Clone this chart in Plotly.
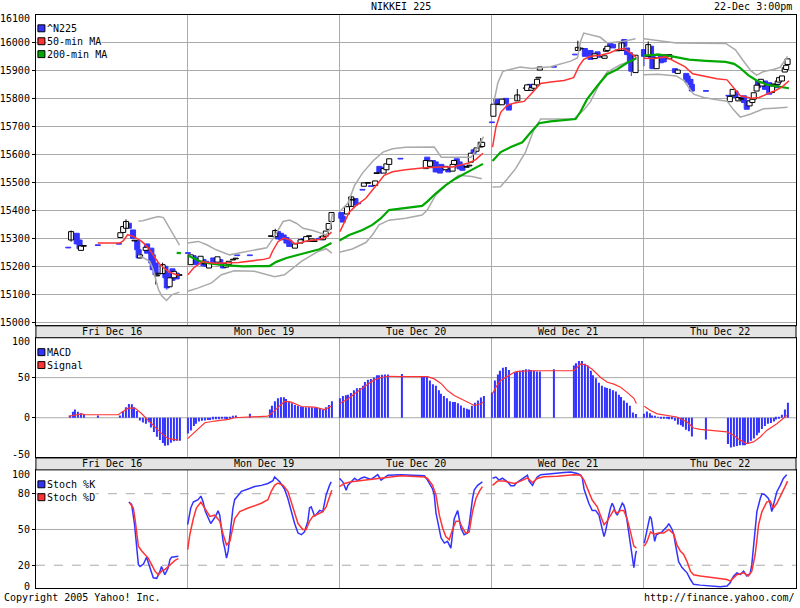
import plotly.graph_objects as go

# ---- canvas / style ----
W, H = 800, 608
BLUE = "#3333ff"
RED = "#ff3333"
GREEN = "#00a800"
GRAY = "#aaaaaa"
FONT = "DejaVu Sans Mono"

# ---- axes / labels ----
days = ["Fri Dec 16", "Mon Dec 19", "Tue Dec 20", "Wed Dec 21", "Thu Dec 22"]
bars_per_day = 54  # 5-minute bars per session
price_ticks = list(range(15000, 16001, 100))
macd_ticks = [0, 50]
stoch_ticks = [20, 50, 80]

# ---- ^N225 candles: (bar, open, close) ----
fri_candles = [
    (11.5, 15270, 15268), (12.5, 15296, 15326), (14.5, 15320, 15282), (15.5, 15296, 15265),
    (16, 15259, 15275), (17, 15275, 15275), (22, 15278, 15277), (29.5, 15283, 15282),
    (30, 15305, 15322), (31, 15323, 15344), (32, 15338, 15362), (33, 15356, 15338),
    (34.5, 15332, 15302), (35, 15294, 15294), (36, 15294, 15261), (36.5, 15261, 15232),
    (37, 15232, 15243), (39, 15259, 15270), (39.5, 15282, 15249), (41, 15267, 15214),
    (41.5, 15243, 15190), (42.5, 15214, 15172), (43, 15169, 15169), (43.5, 15176, 15176),
    (45, 15176, 15208), (46, 15202, 15161), (46.5, 15178, 15125), (47.5, 15129, 15161),
    (48.5, 15193, 15152), (49, 15161, 15184), (50, 15178, 15157), (51, 15171, 15171),
]
mon_candles = [
    (54, 15250, 15249), (55, 15208, 15243), (56, 15240, 15214), (57, 15232, 15208),
    (58.5, 15220, 15238), (59.5, 15226, 15204), (60, 15212, 15212), (60.5, 15220, 15202),
    (61.5, 15196, 15212), (63, 15232, 15214), (64.5, 15217, 15236), (65.5, 15226, 15212),
    (66.5, 15212, 15196), (67.5, 15199, 15212), (68.5, 15208, 15220), (70, 15226, 15226),
    (71, 15230, 15230), (71.5, 15242, 15241), (76, 15242, 15241), (83.5, 15310, 15310),
    (85, 15308, 15330), (86, 15326, 15300), (87, 15320, 15297), (88, 15314, 15297),
    (89, 15305, 15285), (90, 15296, 15273), (92, 15267, 15282), (94, 15285, 15297),
    (95, 15300, 15299), (96, 15291, 15308), (97, 15310, 15310), (98, 15291, 15300),
    (99, 15292, 15292), (100.5, 15301, 15300), (101.5, 15308, 15297), (102, 15297, 15310),
    (103, 15310, 15328), (104, 15334, 15355), (105, 15362, 15394),
]
tue_candles = [
    (108.5, 15394, 15373), (109, 15380, 15360), (110.5, 15389, 15415), (112, 15416, 15450),
    (112.5, 15440, 15440), (113.5, 15444, 15421), (114.5, 15427, 15426), (116, 15476, 15475),
    (116.5, 15488, 15500), (118, 15500, 15500), (119, 15489, 15488), (120.5, 15491, 15507),
    (121, 15535, 15535), (122, 15559, 15535), (122.5, 15555, 15540), (123.5, 15535, 15551),
    (124.5, 15547, 15568), (125.5, 15566, 15586), (129.5, 15587, 15586), (138.5, 15551, 15580),
    (139, 15592, 15557), (140, 15559, 15578), (141, 15580, 15562), (142, 15575, 15539),
    (143.5, 15559, 15535), (144, 15566, 15545), (145.5, 15547, 15559), (146.5, 15555, 15539),
    (148, 15542, 15566), (148.5, 15566, 15580), (149.5, 15586, 15557), (150.5, 15575, 15550),
    (151.5, 15562, 15545), (153, 15557, 15557), (154, 15562, 15562), (154.5, 15574, 15606),
    (155.5, 15618, 15606), (156.5, 15613, 15625), (158, 15628, 15645), (158.5, 15630, 15645),
]
wed_candles = [
    (162, 15717, 15716), (162.5, 15738, 15781), (163.5, 15799, 15781), (164.5, 15781, 15781),
    (165.5, 15779, 15799), (167, 15802, 15784), (168, 15781, 15760), (171, 15793, 15814),
    (174, 15839, 15838), (174.5, 15830, 15850), (175.5, 15852, 15831), (176, 15831, 15840),
    (177, 15838, 15852), (178, 15850, 15870), (178.5, 15876, 15876), (179, 15903, 15914),
    (184, 15915, 15914), (191.5, 15959, 15958), (192.5, 15973, 15984), (193.5, 15980, 15980),
    (195, 15980, 15952), (195.5, 15961, 15960), (197, 15973, 15941), (197.5, 15946, 15945),
    (198.5, 15944, 15961), (199.5, 15968, 15949), (201.5, 15950, 15950), (202, 15945, 15954),
    (202.5, 15970, 15980), (203, 15973, 15988), (204, 16000, 15988), (205, 15995, 15982),
    (206.5, 15973, 15973), (208, 15973, 16000), (209, 16012, 15988), (210, 15982, 15958),
    (211, 15965, 15929), (211.5, 15935, 15899), (213, 15894, 15956),
]
thu_candles = [
    (216, 15976, 15952), (217.5, 15952, 15994), (218.5, 15988, 15947), (219, 15958, 15908),
    (220.5, 15908, 15947), (221, 15958, 15958), (222, 15955, 15929), (223, 15958, 15932),
    (225, 15943, 15958), (227, 15908, 15894), (228, 15891, 15903), (231, 15891, 15870),
    (231.5, 15882, 15860), (232.5, 15870, 15852), (233, 15852, 15828), (238, 15829, 15828),
    (246, 15812, 15811), (246.5, 15790, 15809), (247.5, 15813, 15834), (248.5, 15828, 15805),
    (249.5, 15793, 15805), (250.5, 15800, 15800), (251.5, 15811, 15787), (252.5, 15793, 15763),
    (253.5, 15775, 15793), (254.5, 15787, 15799), (255, 15799, 15822), (256, 15828, 15849),
    (256.5, 15864, 15840), (257.5, 15852, 15870), (258, 15846, 15858), (259, 15864, 15834),
    (260.5, 15858, 15817), (261.5, 15823, 15846), (262, 15852, 15852), (263, 15852, 15840),
    (263.5, 15852, 15864), (264, 15860, 15876), (265, 15864, 15882), (266, 15896, 15911),
    (266.5, 15905, 15920), (267, 15923, 15943),
]
# visible shadows: (bar, high, low)
wicks = [
    (12.5, 15330, 15290), (32, 15370, 15338), (42.5, 15214, 15137), (45, 15215, 15176),
    (46.5, 15178, 15118), (85, 15336, 15308), (112, 15453, 15416), (158, 15660, 15628),
    (171, 15835, 15793), (192.5, 16008, 15973), (208, 16008, 15973), (211.5, 15935, 15882),
    (216, 15976, 15917), (217.5, 16005, 15952),
]

# ---- overlays: (bar, value), None = session break ----
ma50 = [
    (22, 15285), (29.8, 15285), (31, 15293), (32.6, 15315), (34.7, 15308), (37.6, 15291),
    (40, 15267), (41.8, 15239), (43.6, 15214), (45.4, 15196), (47.5, 15181), (50, 15172),
    (51, 15171), None,
    (54, 15172), (56, 15196), (59, 15218), (63.5, 15213), (72, 15216), (80.5, 15226),
    (83, 15232), (84, 15255), (86, 15290), (88, 15303), (90, 15297), (92, 15283), (94, 15286),
    (96.5, 15293), (100.5, 15298), (103, 15306), (105, 15324), None,
    (108, 15326), (109.5, 15356), (111.3, 15395), (113.6, 15418), (117.2, 15445),
    (120.7, 15489), (123.7, 15527), (126.7, 15540), (131.3, 15547), (137.2, 15553),
    (143.2, 15557), (148, 15557), (150.3, 15562), (153.8, 15571), (156.2, 15583),
    (158.8, 15606), None,
    (162.2, 15628), (163.4, 15699), (165.1, 15752), (167.5, 15778), (170, 15785),
    (173.4, 15791), (175.8, 15817), (179.3, 15855), (182.8, 15860), (187.6, 15866),
    (191, 15876), (192.9, 15917), (194.6, 15941), (197, 15952), (200.5, 15956), (204, 15965),
    (206.4, 15976), (208.8, 15980), (211.2, 15965), (213.3, 15947), None,
    (216, 15945), (219.6, 15944), (223.7, 15950), (227.2, 15932), (230.5, 15915),
    (233.3, 15890), (237.2, 15881), (241.9, 15872), (245.5, 15868), (247.9, 15840),
    (250.2, 15811), (254.3, 15802), (256.9, 15805), (260.3, 15820), (262.7, 15830),
    (265.1, 15843), (267.5, 15865),
]
ma200 = [
    (50, 15250), (51.5, 15249), None,
    (54.2, 15240), (56, 15232), (58.3, 15220), (61.8, 15212), (66.5, 15206), (73.6, 15202),
    (83, 15203), (85.4, 15218), (89, 15232), (94, 15245), (97.2, 15253), (100.7, 15263),
    (105, 15285), None,
    (107.8, 15294), (111.3, 15314), (116, 15332), (119.5, 15350), (122.5, 15373),
    (125.4, 15403), (130.2, 15409), (137.2, 15418), (139, 15433), (142, 15462),
    (145.5, 15491), (149, 15515), (152.6, 15535), (156.2, 15554), (158.8, 15568), None,
    (162.2, 15578), (165.1, 15610), (168.7, 15628), (172.8, 15645), (175.8, 15681),
    (178.7, 15713), (182.8, 15720), (187.6, 15724), (191.7, 15728), (193.5, 15755),
    (195.8, 15799), (199.4, 15846), (202.9, 15888), (206.4, 15905), (210, 15929),
    (213.3, 15945), None,
    (216, 15955), (221, 15958), (226, 15952), (232, 15940), (238, 15936), (245, 15932),
    (248, 15925), (250, 15912), (253, 15885), (256, 15866), (260, 15850), (264, 15843),
    (267.5, 15838),
]
band_upper = [
    (36.4, 15364), (38, 15365), (40.4, 15372), (43.5, 15380), (45.3, 15376), (46.5, 15355),
    (48.2, 15326), (50.6, 15280), (51, 15278), None,
    (53.9, 15285), (57.7, 15291), (60.7, 15279), (64, 15261), (68.8, 15243), (72.5, 15249),
    (77, 15259), (82, 15268), (84.8, 15310), (87.8, 15362), (90.1, 15367), (92.5, 15356),
    (94.9, 15338), (98.4, 15330), (103.1, 15314), (104.5, 15335), (105.3, 15390), None,
    (107.8, 15397), (110.8, 15427), (113.2, 15491), (116, 15535), (119.9, 15580),
    (123.3, 15610), (126.7, 15622), (131.3, 15627), (141.5, 15628), (142.7, 15610),
    (144, 15592), (154.6, 15592), (157, 15628), (159, 15665), None,
    (162.5, 15780), (164.1, 15858), (165.9, 15899), (172, 15914), (176.2, 15909),
    (182.8, 15915), (190, 15935), (192.4, 15947), (193.5, 16006), (194.6, 16035),
    (200.5, 16020), (202.9, 16000), (208.8, 16006), (213, 16015), None,
    (216, 16015), (222, 16006), (227.5, 16000), (245, 15998), (248.5, 15975), (251, 15940),
    (254, 15900), (256, 15885), (258.5, 15898), (262, 15905), (264.4, 15913), (267, 15952),
]
band_lower = [
    (36.4, 15243), (40.4, 15220), (41.5, 15195), (42.4, 15165), (43.5, 15120), (44.6, 15098),
    (46.4, 15080), (48.2, 15100), (50.6, 15110), (51, 15110), None,
    (53.9, 15113), (57.7, 15125), (62.4, 15143), (65.9, 15172), (70.5, 15186), (77.6, 15184),
    (84.8, 15165), (88.3, 15172), (94.3, 15220), (100.2, 15255), (103.1, 15265),
    (105.1, 15249), None,
    (107.8, 15252), (112.4, 15264), (117.2, 15287), (119.5, 15314), (121.9, 15350),
    (125.4, 15367), (131.3, 15374), (137.2, 15385), (139, 15403), (142, 15456),
    (145.5, 15491), (150.2, 15527), (154.9, 15523), (158.4, 15515), None,
    (162.2, 15485), (165, 15486), (167.5, 15515), (170.4, 15551), (173.9, 15610),
    (176.9, 15690), (179.3, 15728), (191.1, 15728), (194.6, 15760), (197, 15790),
    (200.5, 15860), (202.9, 15896), (207.6, 15922), (210, 15930), None,
    (216, 15886), (221, 15888), (227.5, 15882), (230.2, 15865), (233.6, 15817),
    (237.2, 15805), (241.9, 15797), (245.5, 15792), (247.9, 15760), (250.2, 15735),
    (253.7, 15745), (258.5, 15765), (262, 15767), (267, 15770),
]

# ---- MACD histogram: (bar, value) ----
macd = [
    (12, 2.8), (13, 7.4), (14, 10.2), (15, 7.4), (16, 5.6), (17, 4.7), (22, 2.8), (30, 2.8),
    (31, 8.4), (32, 13), (33, 17.2), (34, 16.7), (35, 13), (36, 8.4), (37, -3.3), (38, -6),
    (39, -7.4), (40, -5.6), (41, -12.1), (42, -17.7), (43, -23.7), (44, -27.9), (45, -31.6),
    (46, -34.9), (47, -34.4), (48, -31.2), (49, -29.4), (50, -28.8), (51, -28.8),
    (54, -19.5), (55, -15.8), (56, -10.2), (57, -7.4), (58, -4.7), (59, -3.7), (60, -3.3),
    (61, -2.8), (62, -2.8), (63, -2.3), (64, -1.9), (65, -1.9), (66, -1.4), (67, -1.4),
    (68, -1.9), (69, -0.9), (70, 1.9), (71, 2.8), (76, 4.9), (83, 10.2), (84, 14.9),
    (85, 20.5), (86, 24.2), (87, 25.6), (88, 25.6), (89, 23.3), (90, 20.5), (91, 18.1),
    (92, 15.8), (93, 14.9), (94, 14), (95, 13.5), (96, 13), (97, 13), (98, 13), (99, 12.6),
    (100, 12.1), (101, 11.2), (102, 10.2), (103, 13), (104, 15.8), (105, 20.5),
    (108, 24.2), (109, 27), (110, 27.9), (111, 28.8), (112, 30.7), (113, 34.4), (114, 36.8),
    (115, 37.2), (116, 40), (117, 44.6), (118, 47.4), (119, 48.4), (120, 50.2), (121, 53),
    (122, 53), (123, 53.5), (124, 53.9), (125, 53.9), (130, 54.6), (137, 52.1), (138, 52.1),
    (139, 50.7), (140, 46.5), (141, 41.9), (142, 40), (143, 34.4), (144, 29.8), (145, 27),
    (146, 24.2), (147, 20.5), (148, 19.5), (149, 19.5), (150, 18.1), (151, 15.3),
    (152, 12.6), (153, 11.2), (154, 10.2), (155, 14.9), (156, 18.6), (157, 21.4),
    (158, 25.1), (159, 27),
    (162, 31.6), (163, 46.5), (164, 53.9), (165, 58.6), (166, 62.3), (167, 63.2),
    (168, 59.5), (170, 56.7), (171, 57.7), (172, 58.6), (173, 59.5), (174, 60.5), (175, 60),
    (176, 59.5), (177, 58.6), (178, 57.7), (179, 57.7), (184, 60.5), (191, 65.1),
    (192, 67.9), (193, 70.7), (194, 70.7), (195, 67.4), (196, 65.1), (197, 58.6), (198, 53),
    (199, 49.3), (200, 43.7), (201, 40), (202, 38.1), (203, 37.2), (204, 36), (205, 34.4),
    (206, 32.6), (207, 28.8), (208, 26), (209, 21.4), (210, 18.6), (211, 14.9), (212, 6.5),
    (213, 4.7),
    (216, 4.9), (217, 7.9), (218, 5.6), (219, 2.8), (220, 1.4), (221, 0.5), (222, -0.5),
    (223, -0.9), (224, -1.4), (225, -1.9), (226, -1.9), (227, -3.7), (228, -8.4),
    (229, -9.3), (230, -11.2), (231, -14.9), (232, -16.7), (233, -23.3), (238, -27),
    (246, -32.6), (247, -37.2), (248, -36.3), (249, -35.2), (250, -34.4), (251, -34.4),
    (252, -34.4), (253, -32.3), (254, -28.8), (255, -26), (256, -21.9), (257, -18.6),
    (258, -14), (259, -10.2), (260, -7.4), (261, -6.5), (262, -4.7), (263, -2.3),
    (264, -0.5), (265, 3.7), (266, 10.2), (267, 18.6),
]
signal = [
    (11.6, 1.9), (16.3, 4.7), (17.5, 3.7), (29.3, 3.7), (30.5, 7), (32.8, 12), (35.2, 12),
    (37.6, 4.9), (39.9, -3.3), (42.3, -11.5), (44.6, -19.5), (47, -26), (50.6, -27.9), None,
    (53.9, -26), (55.9, -19.5), (57.6, -12.8), (60, -6.2), (63.5, -4.1), (68.3, -2),
    (70.6, 0), (77.7, 0.9), (82.4, 2), (84.2, 7), (86, 13.2), (88.3, 20.3), (90.7, 19.5),
    (93.1, 16.1), (94.3, 14), (99, 13.2), (102.5, 10.2), (104.9, 14.4), None,
    (107.8, 17.4), (110.8, 23.3), (113.2, 29.8), (115.5, 36), (117.9, 41.9), (120.2, 47.2),
    (122.6, 50.2), (125, 51.7), (129.7, 51.2), (139.1, 51.2), (141.5, 48.4), (143.9, 42.8),
    (146.2, 33.9), (148.6, 27.7), (151, 23.5), (153.3, 19.5), (155.7, 15.3), (158, 17.4),
    (159, 19.5), None,
    (162.2, 29.8), (163.4, 38.1), (165.1, 46.5), (167.5, 52.1), (169.9, 56.7), (171, 57.7),
    (177, 58.6), (191.1, 58.6), (193.5, 67), (195.3, 65.8), (197.6, 60.5), (200.6, 50.2),
    (203, 44.3), (205.3, 41.9), (207.7, 38.1), (210, 31.6), (212.4, 24.2), (213.3, 17.7),
    None,
    (216.1, 14.4), (218.3, 9.1), (220.7, 4.9), (224.2, 2.8), (227.7, 0.9), (231.3, -5.4),
    (233.6, -12.8), (236, -14.5), (240.7, -15.8), (245.5, -17.7), (247.8, -21.9),
    (250.2, -27.9), (252.5, -32.3), (254.9, -30.1), (257.3, -24), (259.6, -15.8),
    (263.2, -7.4), (265.5, -1.2), (266.7, 2.8),
]

# ---- Stochastics: (bar, value) ----
stoch_k = [
    (33, 73), (34, 71), (35, 55), (35.8, 32), (36.4, 20.5), (37, 19), (38.2, 21),
    (39.3, 26.7), (40.5, 19), (41.1, 13.6), (41.7, 9.4), (42.9, 9), (44.1, 15), (44.6, 19),
    (45.8, 12), (47, 17.8), (47.6, 24.7), (48.2, 26.7), (50.6, 27.5), None,
    (53.9, 54), (55, 68), (55.9, 73), (57.6, 75), (58.6, 78), (59.4, 73), (60.2, 65),
    (61.2, 59), (62.1, 55), (63.8, 61), (64.7, 65.6), (65.3, 62), (65.9, 51), (66.5, 40),
    (67.1, 34), (67.7, 26), (68.3, 32), (68.9, 46), (69.5, 57), (70, 68), (70.6, 75),
    (71.8, 79), (73, 82), (75.4, 84), (77.7, 86), (80.1, 87), (82.4, 88.6), (84.2, 91),
    (84.8, 94), (86.6, 90), (88.3, 84), (89.5, 76), (90.7, 65), (91.9, 55), (93.1, 47),
    (94.3, 45.6), (95.4, 48), (96.6, 57), (97.2, 68), (97.8, 69), (99, 61), (100.8, 66),
    (101.9, 65), (103.1, 79), (104.3, 87), (104.9, 90), None,
    (107.8, 93), (109, 90), (110.2, 83), (110.8, 87), (112, 90), (113.2, 93), (114.3, 91),
    (115.5, 93), (116.7, 94), (119, 92), (120.2, 94), (121.4, 96), (122.6, 91.4),
    (125, 95.6), (129.7, 96), (138, 95), (139.1, 91.4), (140.9, 84), (141.5, 79),
    (142.1, 64), (142.7, 57), (143.3, 48), (143.9, 43), (145.1, 38.6), (146.2, 40),
    (147.4, 34.4), (148, 45.6), (148.6, 59), (149.8, 66), (150.4, 59), (151, 51),
    (152.1, 45.6), (153.3, 47), (153.9, 54), (154.5, 68), (155.1, 76), (155.7, 83),
    (156.9, 87), (158.6, 90), None,
    (162.2, 93), (163.4, 94), (164.5, 91.4), (165.7, 93), (167.5, 90), (168.7, 86.7),
    (169.9, 86.7), (170.5, 88.6), (171.6, 90.6), (172.8, 92.8), (174.6, 95.6), (175.2, 90.6),
    (176.4, 87), (177, 90), (178.1, 94), (179.3, 96), (182.9, 97), (187.6, 97.8), (190, 98.3),
    (192.3, 97), (193.5, 95.6), (194.1, 93), (194.7, 84), (195.3, 79), (196.4, 72),
    (197.6, 66), (198.8, 66), (200, 62), (200.6, 55), (201.2, 51), (201.8, 44), (202.3, 48),
    (202.9, 57), (203.5, 62), (204.1, 68), (204.7, 72), (205.3, 69), (205.9, 64),
    (206.5, 62), (207.7, 69), (208.3, 72), (208.8, 70.6), (209.4, 66), (210, 57),
    (210.6, 48), (211.2, 40), (211.8, 29), (212.4, 18), (213, 29), (213.3, 32), None,
    (216.1, 38.6), (217.5, 54), (218.1, 61), (218.6, 59), (219.2, 48), (219.8, 40),
    (220.4, 45.6), (222.4, 48), (224.2, 52.5), (224.8, 55), (226, 50), (226.6, 45.6),
    (227.1, 38.6), (227.7, 29), (228.3, 23), (229.5, 18), (230.1, 16.4), (231.3, 13.6),
    (232.5, 8), (233.6, 4), (236, 3.3), (240.7, 2.5), (243.1, 2), (245.5, 2.5), (246.6, 5.3),
    (247.8, 10.8), (249, 13.6), (250.2, 12.2), (251.4, 15), (252.5, 11), (253.7, 13),
    (254.3, 20.5), (254.9, 34), (255.5, 51), (256.1, 65), (257.3, 76), (257.9, 80),
    (259, 79), (260.2, 76), (260.8, 72), (261.4, 65), (262, 70.6), (263.2, 81.7),
    (264.4, 87), (265.5, 92.8), (266.7, 96),
]
stoch_d = [
    (33.4, 72), (34.6, 68), (35.2, 59), (35.8, 46), (36.4, 36), (37.6, 32), (38.7, 29),
    (39.9, 26), (41.1, 20.5), (42.3, 15), (43.5, 12), (44.6, 15), (45.8, 16.4), (47, 19),
    (48.2, 22), (49.4, 24), (50.6, 25.5), None,
    (53.9, 33), (54.7, 46), (55.9, 59), (57, 68), (58.6, 73), (60, 68), (61.8, 61),
    (63.5, 62), (65.3, 57), (66.5, 46), (67.7, 37), (68.9, 40), (70.6, 59), (72.4, 65),
    (75.4, 68), (80.1, 72), (82.4, 75), (83.6, 82), (84.8, 87), (86, 89), (87.8, 87),
    (89.5, 82), (91.3, 68), (93.1, 55), (94.8, 50), (96, 50), (97.2, 57), (98.4, 61),
    (100.2, 63), (101.9, 65), (103.1, 69), (104.3, 77.5), (105.1, 83), None,
    (107.8, 86), (109.6, 88.6), (112, 90), (114.3, 90.6), (116.7, 91.4), (119, 92),
    (122.6, 92.8), (125, 94), (129.7, 95), (138, 94), (139.1, 92.8), (140.9, 87),
    (142.1, 79), (143.3, 62), (144.5, 51), (145.6, 44), (146.8, 41.4), (148, 50),
    (149.2, 57), (150.4, 57), (151.6, 51), (152.7, 47), (153.9, 48), (155.1, 65),
    (156.3, 76), (157.5, 82), (158.6, 86), None,
    (162.2, 87), (164, 90.6), (166.3, 90.6), (167.5, 90), (169.9, 88.6), (172.2, 90.6),
    (174.6, 93.3), (176.4, 89.4), (178.1, 92.8), (180.5, 94.2), (185.2, 94.7), (191.1, 96),
    (193.5, 95.6), (194.7, 91.4), (195.9, 84.4), (197.6, 74.7), (199.4, 69), (200.6, 61),
    (201.8, 54), (202.9, 57), (204.1, 62), (205.3, 66.4), (206.5, 63.6), (207.7, 66),
    (208.8, 66), (210, 59), (211.2, 48), (212.4, 36), (213.3, 34.4), None,
    (216.1, 36), (217.1, 40), (218.3, 48), (219.5, 46), (221.2, 47), (223, 47), (224.8, 50),
    (226.6, 46), (227.7, 37), (228.9, 32), (230.1, 29), (231.3, 23), (232.5, 15),
    (233.6, 12), (236, 11), (240.7, 9.4), (245.5, 8), (246.6, 6.7), (247.8, 9), (249, 12),
    (251.4, 13.6), (253.1, 11), (254.3, 15), (255.5, 29), (256.1, 41), (256.7, 54),
    (257.9, 65), (259.6, 73), (260.8, 74), (262, 68), (263.2, 72), (265, 80), (266.1, 86),
    (267, 90.6),
]

# edge labels that sit just inside each panel: (text, y pixel)
edge_labels = [("16100", 19), ("100", 344), ("-50", 457.5), ("100", 477.5), ("0", 590.5)]


def xy(points):
    xs = [p[0] if p else None for p in points]
    ys = [p[1] if p else None for p in points]
    return xs, ys


def px(x):
    return x / W


def py(y):
    return 1 - y / H


fig = go.Figure()

# ---- candles as floating bars ----
candles = fri_candles + mon_candles + tue_candles + wed_candles + thu_candles
is_up = {c[0]: c[2] >= c[1] for c in candles}
MIN_BODY = 2.5


def bodies(rows):
    xs, hs, bs = [], [], []
    for b, o, c in rows:
        lo, h = min(o, c), abs(c - o)
        if h < MIN_BODY:
            lo -= (MIN_BODY - h) / 2
            h = MIN_BODY
        xs.append(b)
        hs.append(h)
        bs.append(lo)
    return xs, hs, bs


for up, fill, edge in [(False, BLUE, BLUE), (True, "white", "black")]:
    wx, wy = [], []
    for b, hi, lo in wicks:
        if is_up[b] == up:
            wx += [b, b, None]
            wy += [lo, hi, None]
    fig.add_trace(go.Scatter(x=wx, y=wy, mode="lines", line=dict(color=edge, width=1),
                             hoverinfo="skip"))
    xs, hs, bs = bodies([c for c in candles if (c[2] >= c[1]) == up])
    fig.add_trace(go.Bar(x=xs, y=hs, base=bs, width=1.8,
                         marker=dict(color=fill, line=dict(color=edge, width=1))))

for pts, color, width in [(band_upper, GRAY, 1.5), (band_lower, GRAY, 1.5),
                          (ma200, GREEN, 2.2), (ma50, RED, 1.5)]:
    x, y = xy(pts)
    fig.add_trace(go.Scatter(x=x, y=y, mode="lines", line=dict(color=color, width=width),
                             connectgaps=False))

# ---- MACD ----
mx, my = xy(macd)
fig.add_trace(go.Bar(x=mx, y=my, width=0.4, marker=dict(color=BLUE, line=dict(width=0)),
                     xaxis="x2", yaxis="y2"))
sx, sy = xy(signal)
fig.add_trace(go.Scatter(x=sx, y=sy, mode="lines", line=dict(color=RED, width=1.2),
                         xaxis="x2", yaxis="y2"))

# ---- Stochastics ----
for pts, color in [(stoch_k, BLUE), (stoch_d, RED)]:
    x, y = xy(pts)
    fig.add_trace(go.Scatter(x=x, y=y, mode="lines", line=dict(color=color, width=1.5),
                             xaxis="x3", yaxis="y3"))

# ---- axes ----
day_edges = [bars_per_day * i for i in range(1, len(days))]
xcommon = dict(range=[0, bars_per_day * len(days)], domain=[px(34), px(796)],
               tickvals=day_edges, showticklabels=False, ticks="", showgrid=True,
               gridcolor=GRAY, gridwidth=1, zeroline=False, showline=True,
               linecolor="black", linewidth=1, mirror=True)
ycommon = dict(ticks="outside", ticklen=3, tickcolor="black", showline=True,
               linecolor="black", linewidth=1, mirror=True, zeroline=False,
               tickfont=dict(family=FONT, size=10, color="black"))

fig.update_layout(
    width=W, height=H, margin=dict(l=0, r=0, t=0, b=0),
    paper_bgcolor="white", plot_bgcolor="white", showlegend=False, barmode="overlay",
    xaxis=dict(anchor="y", **xcommon),
    xaxis2=dict(anchor="y2", **xcommon),
    xaxis3=dict(anchor="y3", **xcommon),
    yaxis=dict(domain=[py(327), py(15)], range=[14993, 16100], tickvals=price_ticks,
               ticktext=[str(v) for v in price_ticks], showgrid=True, gridcolor=GRAY,
               gridwidth=1, **ycommon),
    yaxis2=dict(domain=[py(460), py(340)], range=[-48.9, 99.7], tickvals=macd_ticks,
                ticktext=[str(v) for v in macd_ticks], showgrid=False, **ycommon),
    yaxis3=dict(domain=[py(592), py(473)], range=[0.8, 100], tickvals=stoch_ticks,
                ticktext=[str(v) for v in stoch_ticks], showgrid=False, **ycommon),
)

# panel reference lines
for yref, level, dash in [("y2", 0, "solid"), ("y2", 50, "solid"),
                          ("y3", 20, "dash"), ("y3", 50, "solid"), ("y3", 80, "dash")]:
    fig.add_shape(type="line", xref="paper", x0=px(34), x1=px(796), yref=yref,
                  y0=level, y1=level, line=dict(color=GRAY, width=1, dash=dash),
                  layer="below")

# labels at panel edges, nudged inside as in the original
for t, y in edge_labels:
    fig.add_annotation(x=px(30.5), y=py(y), xref="paper", yref="paper", text=t,
                       showarrow=False, xanchor="right", yanchor="middle",
                       font=dict(family=FONT, size=10, color="black"))

# date strips between panels
for top, bottom in [(328, 340), (461, 473)]:
    fig.add_shape(type="rect", xref="paper", yref="paper", x0=px(34), x1=px(796),
                  y0=py(bottom), y1=py(top), fillcolor="#e4e4e4",
                  line=dict(color="black", width=1))
    for i, d in enumerate(days):
        fig.add_annotation(x=bars_per_day * (i + 0.5), xref="x", y=py((top + bottom) / 2),
                           yref="paper", text=d, showarrow=False, xanchor="center",
                           yanchor="middle", font=dict(family=FONT, size=10, color="black"))

# legends
legend_rows = [("^N225", BLUE, 28.5), ("50-min MA", RED, 41.5), ("200-min MA", GREEN, 54.5),
               ("MACD", BLUE, 354.5), ("Signal", RED, 367.5),
               ("Stoch %K", BLUE, 487.5), ("Stoch %D", RED, 500.5)]
for label, color, yc in legend_rows:
    fig.add_annotation(x=px(44.5), y=py(yc), xref="paper", yref="paper", text=label,
                       showarrow=False, xanchor="left", yanchor="middle", bgcolor="white",
                       borderpad=0, font=dict(family=FONT, size=10, color="black"))
    fig.add_shape(type="rect", xref="paper", yref="paper", x0=px(36), x1=px(43),
                  y0=py(yc + 3.5), y1=py(yc - 3.5), fillcolor=color,
                  line=dict(color="black", width=1), layer="above")

# title and footers
texts = [("NIKKEI 225", 400, 7, "center"), ("22-Dec 3:00pm", 794, 7, "right"),
         ("Copyright 2005 Yahoo! Inc.", 0, 601, "left"),
         ("http://finance.yahoo.com/", 797, 601, "right")]
for t, x, y, anchor in texts:
    fig.add_annotation(x=px(x), y=py(y), xref="paper", yref="paper", text=t,
                       showarrow=False, xanchor=anchor, yanchor="middle",
                       font=dict(family=FONT, size=10, color="black"))

# page body has a default margin; drop it so the figure sits at the window origin
fig.write_html("out.html", config={"displayModeBar": False},
               post_script="document.body.style.margin='0';document.body.style.overflow='hidden';")
